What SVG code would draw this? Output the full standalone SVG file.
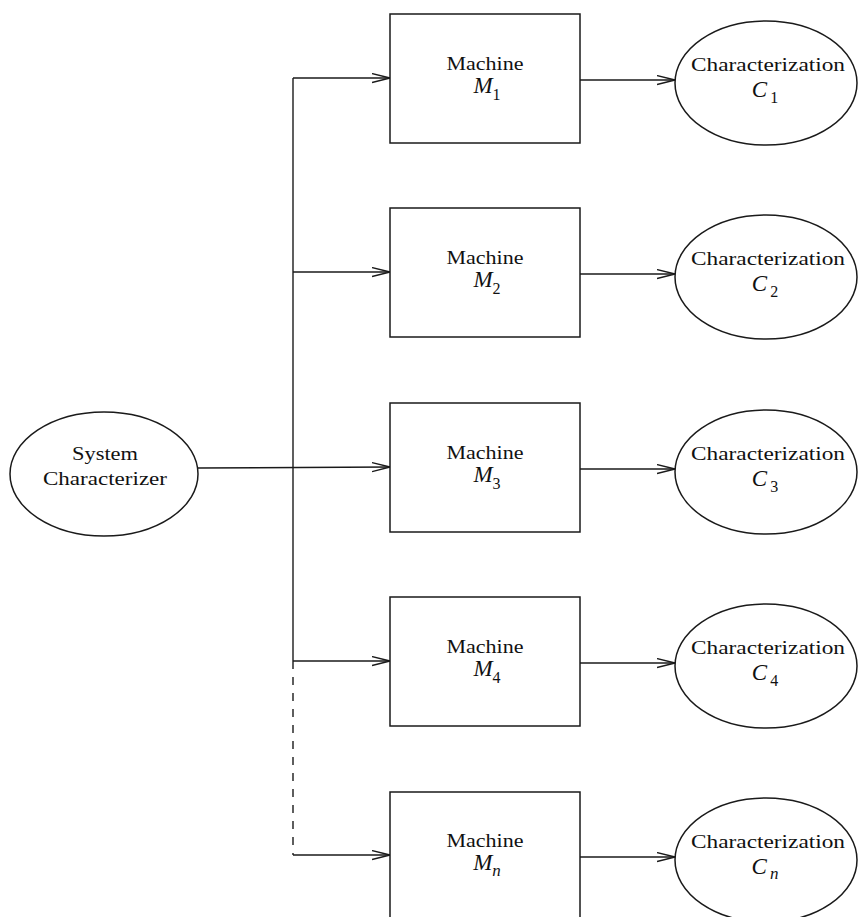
<svg xmlns="http://www.w3.org/2000/svg" width="858" height="917" viewBox="0 0 858 917">
<style>
.ln{stroke:#1a1a1a;stroke-width:1.4;fill:none}
.bx{stroke:#1a1a1a;stroke-width:1.5;fill:#fff}
.t{font-family:"Liberation Serif","Times New Roman",serif;font-size:19px;fill:#111;text-anchor:middle}
.m{font-family:"Liberation Serif","Times New Roman",serif;font-size:23px;font-style:italic;fill:#111;text-anchor:middle}
.s{font-style:normal;font-size:16px}
.si{font-style:italic;font-size:17px}
</style>
<defs>
<marker id="ah" markerWidth="20" markerHeight="12" refX="18" refY="5" orient="auto" markerUnits="userSpaceOnUse">
<path d="M0,0.5 L18,5 L0,9.5" fill="none" stroke="#1a1a1a" stroke-width="1.3"/>
</marker>
</defs>
<rect width="858" height="917" fill="#fff"/>
<g id="connectors">
<line class="ln" x1="293" y1="78" x2="293" y2="661"/>
<line class="ln" x1="293" y1="661" x2="293" y2="855" stroke-dasharray="8,8"/>
<line class="ln" x1="198" y1="468" x2="390" y2="467" marker-end="url(#ah)"/>
<line class="ln" x1="293" y1="78" x2="390" y2="78" marker-end="url(#ah)"/>
<line class="ln" x1="293" y1="272" x2="390" y2="272" marker-end="url(#ah)"/>
<line class="ln" x1="293" y1="661" x2="390" y2="661" marker-end="url(#ah)"/>
<line class="ln" x1="293" y1="855" x2="390" y2="855" marker-end="url(#ah)"/>
<line class="ln" x1="580" y1="80" x2="675" y2="80" marker-end="url(#ah)"/>
<line class="ln" x1="580" y1="274" x2="675" y2="274" marker-end="url(#ah)"/>
<line class="ln" x1="580" y1="469" x2="675" y2="469" marker-end="url(#ah)"/>
<line class="ln" x1="580" y1="663" x2="675" y2="663" marker-end="url(#ah)"/>
<line class="ln" x1="580" y1="857" x2="675" y2="857" marker-end="url(#ah)"/>
</g>
<g id="system">
<ellipse class="bx" cx="104" cy="474" rx="94" ry="62"/>
<text class="t" x="105" y="460" textLength="66" lengthAdjust="spacingAndGlyphs">System</text>
<text class="t" x="105" y="485" textLength="124" lengthAdjust="spacingAndGlyphs">Characterizer</text>
</g>
<g id="m1">
<rect class="bx" x="390" y="14" width="190" height="129"/>
<text class="t" x="485" y="70" textLength="77" lengthAdjust="spacingAndGlyphs">Machine</text>
<text class="m" x="487" y="93">M<tspan class="s" dy="7">1</tspan></text>
</g>
<g id="m2">
<rect class="bx" x="390" y="208" width="190" height="129"/>
<text class="t" x="485" y="264" textLength="77" lengthAdjust="spacingAndGlyphs">Machine</text>
<text class="m" x="487" y="287">M<tspan class="s" dy="7">2</tspan></text>
</g>
<g id="m3">
<rect class="bx" x="390" y="403" width="190" height="129"/>
<text class="t" x="485" y="459" textLength="77" lengthAdjust="spacingAndGlyphs">Machine</text>
<text class="m" x="487" y="482">M<tspan class="s" dy="7">3</tspan></text>
</g>
<g id="m4">
<rect class="bx" x="390" y="597" width="190" height="129"/>
<text class="t" x="485" y="653" textLength="77" lengthAdjust="spacingAndGlyphs">Machine</text>
<text class="m" x="487" y="676">M<tspan class="s" dy="7">4</tspan></text>
</g>
<g id="mn">
<rect class="bx" x="390" y="792" width="190" height="129"/>
<text class="t" x="485" y="847" textLength="77" lengthAdjust="spacingAndGlyphs">Machine</text>
<text class="m" x="487" y="870">M<tspan class="si" dy="6">n</tspan></text>
</g>
<g id="c1">
<ellipse class="bx" cx="766" cy="83" rx="91" ry="62"/>
<text class="t" x="768" y="71" textLength="154" lengthAdjust="spacingAndGlyphs">Characterization</text>
<text class="m" x="765" y="97" font-size="22">C<tspan class="s" dy="6" dx="3">1</tspan></text>
</g>
<g id="c2">
<ellipse class="bx" cx="766" cy="277" rx="91" ry="62"/>
<text class="t" x="768" y="265" textLength="154" lengthAdjust="spacingAndGlyphs">Characterization</text>
<text class="m" x="765" y="291" font-size="22">C<tspan class="s" dy="6" dx="3">2</tspan></text>
</g>
<g id="c3">
<ellipse class="bx" cx="766" cy="472" rx="91" ry="62"/>
<text class="t" x="768" y="460" textLength="154" lengthAdjust="spacingAndGlyphs">Characterization</text>
<text class="m" x="765" y="486" font-size="22">C<tspan class="s" dy="6" dx="3">3</tspan></text>
</g>
<g id="c4">
<ellipse class="bx" cx="766" cy="666" rx="91" ry="62"/>
<text class="t" x="768" y="654" textLength="154" lengthAdjust="spacingAndGlyphs">Characterization</text>
<text class="m" x="765" y="680" font-size="22">C<tspan class="s" dy="6" dx="3">4</tspan></text>
</g>
<g id="cn">
<ellipse class="bx" cx="766" cy="860" rx="91" ry="62"/>
<text class="t" x="768" y="848" textLength="154" lengthAdjust="spacingAndGlyphs">Characterization</text>
<text class="m" x="765" y="874" font-size="22">C<tspan class="si" dy="5" dx="3">n</tspan></text>
</g>
</svg>
